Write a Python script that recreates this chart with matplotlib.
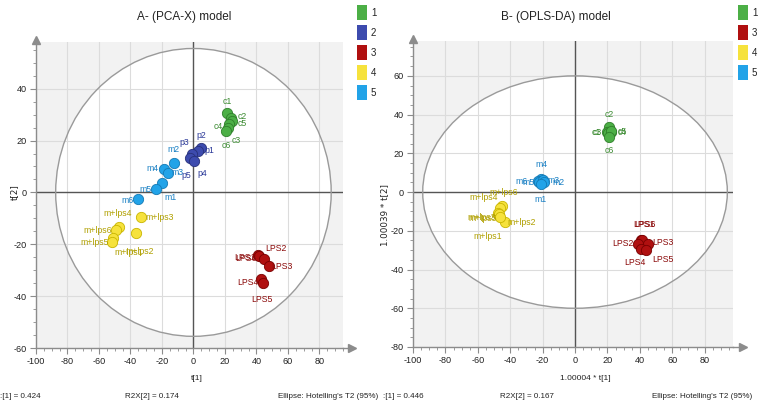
import matplotlib
matplotlib.use("Agg")
import matplotlib.pyplot as plt
from matplotlib.patches import Ellipse, Rectangle
from matplotlib.ticker import MultipleLocator

plt.rcParams["axes.unicode_minus"] = False

# ---------------- data ----------------
# Panel A (PCA-X): t[1], t[2]
a_g1_names = ["c1", "c2", "c5", "c4", "c3", "c6"]
a_g1_x = [21.6, 24.1, 24.8, 22.9, 22.2, 21.0]
a_g1_y = [30.8, 28.8, 27.7, 26.5, 25.0, 23.8]

a_g2_names = ["p2", "p1", "p3", "p5", "p4"]
a_g2_x = [5.1, 3.0, -0.6, -1.9, 0.2]
a_g2_y = [17.3, 16.0, 15.0, 13.1, 12.0]

a_g3_names = ["LPS1", "LPS6", "LPS2", "LPS3", "LPS4", "LPS5"]
a_g3_x = [41.3, 41.9, 45.1, 48.3, 43.2, 44.4]
a_g3_y = [-24.2, -24.6, -25.8, -28.5, -33.5, -35.0]

a_g4_names = ["m+lps3", "m+lps2", "m+lps4", "m+lps6", "m+lps1", "m+lps5"]
a_g4_x = [-33.0, -36.2, -47.0, -49.5, -51.4, -52.0]
a_g4_y = [-9.6, -15.8, -13.5, -14.6, -17.7, -19.2]

a_g5_names = ["m2", "m4", "m3", "m1", "m5", "m6"]
a_g5_x = [-12.1, -19.0, -16.0, -19.7, -23.5, -34.9]
a_g5_y = [11.2, 9.2, 7.5, 3.8, 1.5, -2.7]

# Panel B (OPLS-DA): 1.00004*t[1], 1.00039*t[2]
b_g1_names = ["c2", "c1", "c3", "c4", "c5", "c6"]
b_g1_x = [21.0, 20.0, 20.5, 22.0, 22.5, 21.0]
b_g1_y = [33.5, 31.0, 30.5, 31.0, 31.5, 28.5]

b_g3_names = ["LPS1", "LPS6", "LPS2", "LPS3", "LPS4", "LPS5"]
b_g3_x = [40.7, 41.4, 38.9, 45.1, 40.7, 43.8]
b_g3_y = [-24.7, -24.7, -26.8, -26.8, -29.4, -29.9]

b_g4_names = ["m+lps6", "m+lps4", "m+lps3", "m+lps5", "m+lps2", "m+lps1"]
b_g4_x = [-45.0, -46.0, -47.5, -47.0, -43.2, -46.3]
b_g4_y = [-7.2, -8.0, -10.8, -11.5, -15.5, -12.9]

b_g5_names = ["m4", "m6", "m5", "m3", "m2", "m1"]
b_g5_x = [-21.0, -23.0, -22.5, -19.5, -19.0, -21.0]
b_g5_y = [7.0, 5.5, 5.0, 6.0, 5.0, 4.0]

# Hotelling's T2 (95%) ellipse semi-axes
a_ell = (87.5, 55.5)
b_ell = (94.0, 60.0)

a_stats = [":[1] = 0.424", "R2X[2] = 0.174", "Ellipse: Hotelling's T2 (95%)"]
b_stats = [":[1] = 0.446", "R2X[2] = 0.167", "Ellipse: Hotelling's T2 (95%)"]

a_legend = ["1", "2", "3", "4", "5"]
b_legend = ["1", "3", "4", "5"]

# ---------------- styles ----------------
FILL = {"1": "#4caf46", "2": "#3d4bae", "3": "#b01010", "4": "#f6e23c", "5": "#22a3e8"}
EDGE = {"1": "#2f7f2a", "2": "#27317a", "3": "#780000", "4": "#c9b500", "5": "#147ab4"}
LCOL = {"1": "#3a8a30", "2": "#2c3a99", "3": "#8b0a0a", "4": "#b0a000", "5": "#1a80c4"}

NARROW = ["Liberation Sans", "DejaVu Sans"]

# label offsets in points
a_off = {
    "1": [(0, 8), (8, 1), (7, -2), (-8, -2), (6, -9), (0, -11)],
    "2": [(0, 9), (8, 0), (-6, 8), (-3, -12), (6, -9)],
    "3": [(-10, -2), (-10, -2), (8, 8), (9, 0), (-10, -2), (-1, -12)],
    "4": [(13, 0), (2, -13), (-1, 10), (-13, 0), (12, -10), (-12, 0)],
    "5": [(-1, 10), (-8, 0), (7, 0), (6, -11), (-8, -1), (-8, -1)],
}
b_off = {
    "1": [(0, 9), (-8, 0), (-8, 0), (8, 0), (8, 0), (0, -10)],
    "3": [(2, 11), (2, 11), (-11, 0), (11, 1), (-4, -10), (12, -7)],
    "4": [(1, 10), (-12, 7), (-12, -3), (-12, -3), (12, 0), (-9, -14)],
    "5": [(0, 10), (-12, 0), (-7, 0), (7, 0), (10, 0), (0, -11)],
}

W, H = 760, 411
fig = plt.figure(figsize=(7.6, 4.11), dpi=100)
fig.patch.set_facecolor("white")


def px_rect(l, t, r, b):
    return [l / W, 1 - b / H, (r - l) / W, (b - t) / H]


def panel(ax, groups, offs, xlim, ylim, yticks, ell):
    ax.set_facecolor("#f2f2f2")
    ax.set_xlim(*xlim)
    ax.set_ylim(*ylim)
    ax.set_xticks(list(range(-100, 81, 20)))
    ax.set_yticks(yticks)
    ax.xaxis.set_minor_locator(MultipleLocator(5))
    ax.yaxis.set_minor_locator(MultipleLocator(5))
    ax.set_axisbelow(True)
    ax.grid(True, which="major", color="#dcdcdc", lw=0.8)
    ax.add_patch(Ellipse((0, 0), 2 * ell[0], 2 * ell[1], facecolor="white",
                         edgecolor="none", zorder=0.2))
    ax.add_patch(Ellipse((0, 0), 2 * ell[0], 2 * ell[1], facecolor="none",
                         edgecolor="#9a9a9a", lw=1.0, zorder=1.5))
    ax.axhline(0, color="#555555", lw=1.0, zorder=1.3)
    ax.axvline(0, color="#555555", lw=1.0, zorder=1.3)
    for s in ["top", "right"]:
        ax.spines[s].set_visible(False)
    for s in ["left", "bottom"]:
        ax.spines[s].set_color("#8c8c8c")
        ax.spines[s].set_linewidth(1.0)
    ax.tick_params(which="major", length=4, color="#8c8c8c", direction="out",
                   labelsize=6.6, labelcolor="#222222", pad=2.5)
    ax.tick_params(which="minor", length=2.5, color="#8c8c8c", direction="out")
    for lab in ax.get_xticklabels() + ax.get_yticklabels():
        lab.set_family(NARROW)
    # arrows
    ax.plot([1.0, 1.03], [0, 0], color="#8c8c8c", lw=1.0, transform=ax.transAxes,
            clip_on=False)
    ax.plot(1.03, 0, marker=">", ms=6, color="#8c8c8c", transform=ax.transAxes,
            clip_on=False)
    ax.plot(0, 1.005, marker="^", ms=6, color="#8c8c8c", transform=ax.transAxes,
            clip_on=False)
    for key, names, xs, ys in groups:
        ax.scatter(xs, ys, s=55, c=FILL[key], edgecolors=EDGE[key], linewidths=0.6,
                   zorder=3)
        for n, x, y, o in zip(names, xs, ys, offs[key]):
            ax.annotate(n, (x, y), xytext=o, textcoords="offset points",
                        ha="center", va="center", fontsize=6.3, color=LCOL[key],
                        family=NARROW, zorder=4)


axA = fig.add_axes(px_rect(36, 42, 343, 348))
panel(axA,
      [("5", a_g5_names, a_g5_x, a_g5_y), ("4", a_g4_names, a_g4_x, a_g4_y),
       ("2", a_g2_names, a_g2_x, a_g2_y), ("1", a_g1_names, a_g1_x, a_g1_y),
       ("3", a_g3_names, a_g3_x, a_g3_y)],
      a_off, (-100, 95), (-60, 58), list(range(-60, 41, 20)), a_ell)

axB = fig.add_axes(px_rect(413, 41, 733, 347))
panel(axB,
      [("5", b_g5_names, b_g5_x, b_g5_y), ("4", b_g4_names, b_g4_x, b_g4_y),
       ("1", b_g1_names, b_g1_x, b_g1_y), ("3", b_g3_names, b_g3_x, b_g3_y)],
      b_off, (-100, 97.5), (-80, 78), list(range(-80, 61, 20)), b_ell)

# titles
fig.text(184 / W, 1 - 17 / H, "A- (PCA-X) model", ha="center", va="center",
         fontsize=8.5, family=NARROW, color="#222222")
fig.text(556 / W, 1 - 17 / H, "B- (OPLS-DA) model", ha="center", va="center",
         fontsize=8.5, family=NARROW, color="#222222")

# axis labels
fig.text(197 / W, 1 - 378 / H, "t[1]", ha="center", va="center", fontsize=6,
         family=NARROW, color="#222222")
fig.text(585 / W, 1 - 378 / H, "1.00004 * t[1]", ha="center", va="center",
         fontsize=6, family=NARROW, color="#222222")
fig.text(14 / W, 1 - 192 / H, "t[2]", ha="center", va="center", fontsize=6.3,
         rotation=90, family="DejaVu Sans", color="#222222")
fig.text(385 / W, 1 - 215 / H, "1.00039 * t[2]", ha="center", va="center",
         fontsize=6.3, rotation=90, family="DejaVu Sans", color="#222222")

# bottom stats
stat_x = [0, 125, 278, 383, 500, 652]
for txt, x in zip(a_stats + b_stats, stat_x):
    fig.text(x / W, 1 - 396 / H, txt, ha="left", va="center", fontsize=5.8,
             family=NARROW, color="#222222")

# legends
for i, lab in enumerate(a_legend):
    top = 5 + 20 * i
    fig.add_artist(Rectangle((357 / W, 1 - (top + 15) / H), 10 / W, 15 / H,
                             transform=fig.transFigure, facecolor=FILL[lab],
                             edgecolor="none"))
    fig.text(371 / W, 1 - (top + 7.5) / H, lab, ha="left", va="center",
             fontsize=7, family=NARROW, color="#222222")
for i, lab in enumerate(b_legend):
    top = 5 + 20 * i
    fig.add_artist(Rectangle((738 / W, 1 - (top + 15) / H), 10 / W, 15 / H,
                             transform=fig.transFigure, facecolor=FILL[lab],
                             edgecolor="none"))
    fig.text(752 / W, 1 - (top + 7.5) / H, lab, ha="left", va="center",
             fontsize=7, family=NARROW, color="#222222")

fig.savefig("out.png", dpi=100)
